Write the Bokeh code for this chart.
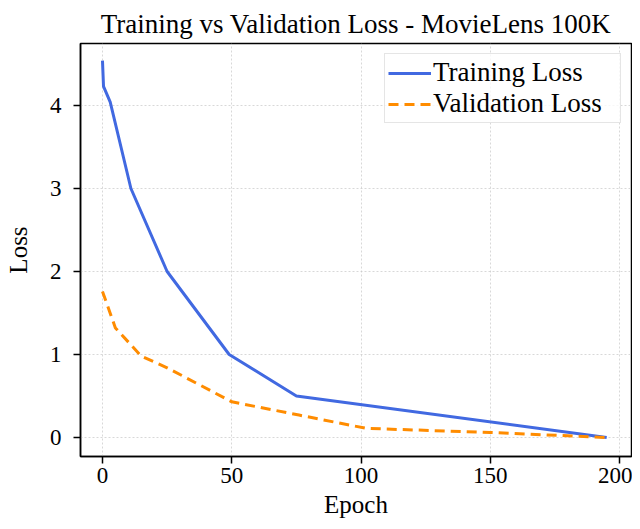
from bokeh.plotting import figure
from bokeh.models import Range1d, FixedTicker, Legend, LegendItem
from bokeh.embed import file_html
from bokeh.resources import INLINE

train_epochs = [0, 0.4, 3, 11, 25, 49, 75, 195]
train_loss = [4.54, 4.23, 4.04, 3.0, 2.0, 1.0, 0.5, 0.0]
val_epochs = [0, 5, 15, 25, 50, 76, 102, 150, 195]
val_loss = [1.76, 1.32, 0.98, 0.84, 0.43, 0.27, 0.11, 0.06, 0.0]
x_ticks = [0, 50, 100, 150, 200]
y_ticks = [0, 1, 2, 3, 4]

FONT = "Liberation Serif"

p = figure(width=632, height=521, output_backend="svg", toolbar_location=None,
           x_range=Range1d(-8.5, 204.6), y_range=Range1d(-0.229, 4.747),
           min_border_left=80, min_border_right=1, min_border_top=43, min_border_bottom=65,
           title="Training vs Validation Loss - MovieLens 100K")
p.title.text_font = FONT
p.title.text_font_size = "27px"
p.title.text_font_style = "normal"
p.title.align = "center"
p.title.text_color = "black"
p.title.standoff = 9

p.outline_line_color = "black"
p.outline_line_width = 1.5
p.outline_line_alpha = 1

for ax in (p.xaxis[0], p.yaxis[0]):
    ax.axis_line_color = "black"
    ax.axis_line_width = 1.5
    ax.major_tick_line_color = "black"
    ax.major_tick_line_width = 1.5
    ax.major_tick_out = 7
    ax.major_tick_in = 0
    ax.minor_tick_line_color = None
    ax.major_label_text_font = FONT
    ax.major_label_text_font_size = "23px"
    ax.major_label_text_color = "black"
    ax.major_label_standoff = 4
    ax.axis_label_text_font = FONT
    ax.axis_label_text_font_size = "25px"
    ax.axis_label_text_font_style = "normal"
    ax.axis_label_text_color = "black"

p.xaxis.ticker = FixedTicker(ticks=x_ticks)
p.yaxis.ticker = FixedTicker(ticks=y_ticks)
p.xaxis.axis_label = "Epoch"
p.yaxis.axis_label = "Loss"
p.xaxis.axis_label_standoff = 5
p.yaxis.major_label_standoff = 12
p.yaxis.axis_label_standoff = 15
p.yaxis.major_label_orientation = "horizontal"

p.grid.grid_line_color = "#c8c8c8"
p.grid.grid_line_dash = "2 2"
p.grid.grid_line_alpha = 0.7
p.grid.grid_line_width = 1

r1 = p.line(train_epochs, train_loss, line_color="#4169e1", line_width=3)
r2 = p.line(val_epochs, val_loss, line_color="#ff8c00", line_width=3, line_dash="10 6")

legend = Legend(items=[LegendItem(label="Training Loss", renderers=[r1]),
                       LegendItem(label="Validation Loss", renderers=[r2])],
                location="top_right")
legend.label_text_font = FONT
legend.label_text_font_size = "27px"
legend.label_text_color = "black"
legend.glyph_width = 43
legend.label_standoff = 2
legend.label_width = 184
legend.spacing = 0
legend.padding = 3
legend.margin = 10
legend.border_line_color = "#cccccc"
legend.border_line_width = 1
legend.background_fill_alpha = 0.8
legend.label_height = 26
legend.glyph_height = 26
p.add_layout(legend)

open("out.html", "w").write(file_html(p, INLINE))
